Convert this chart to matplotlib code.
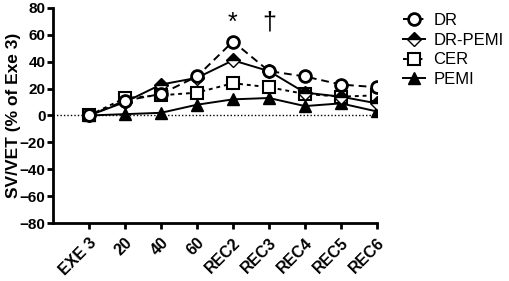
import matplotlib
matplotlib.use('Agg')
import matplotlib.pyplot as plt

plt.rcParams['font.family'] = ['Liberation Sans', 'DejaVu Sans']

# data
labels = ['EXE 3', '20', '40', '60', 'REC2', 'REC3', 'REC4', 'REC5', 'REC6']
dr = [0, 11, 16, 29, 55, 33, 29, 23, 21]
dr_pemi = [0, 10, 23, 28, 41, 33, 17, 14, 9]
cer = [0, 13, 15, 17, 24, 21, 16, 14, 15]
pemi = [0, 1, 2, 8, 12, 13, 7, 9, 3]
yticks = [-80, -60, -40, -20, 0, 20, 40, 60, 80]

x = list(range(len(labels)))

fig = plt.figure(figsize=(5.1, 2.81), dpi=100)
ax = fig.add_axes([0.104, 0.206, 0.635, 0.766])

ax.axhline(0, color='black', linestyle=(0, (1, 1.5)), linewidth=1, zorder=1)

ax.plot(x, dr, color='black', linestyle=(0, (4, 2.5)), linewidth=1.4,
        marker='o', markersize=8.5, markerfacecolor='white', markeredgewidth=2,
        label='DR', zorder=5)
ax.plot(x, dr_pemi, color='black', linestyle='-', linewidth=1.4,
        marker='D', markersize=7, fillstyle='top', markerfacecoloralt='white',
        markeredgewidth=1, label='DR-PEMI', zorder=4)
ax.plot(x, cer, color='black', linestyle=(0, (2, 2)), linewidth=1.4,
        marker='s', markersize=8, markerfacecolor='white', markeredgewidth=1.5,
        label='CER', zorder=3)
ax.plot(x, pemi, color='black', linestyle='-', linewidth=1.4,
        marker='^', markersize=8, label='PEMI', zorder=2)

ax.text(4, 60, '*', ha='center', va='bottom', fontsize=18)
ax.text(5, 60, '†', ha='center', va='bottom', fontsize=18)

ax.set_xlim(-1, 8)
ax.set_ylim(-80, 80)
ax.set_yticks(yticks)
ax.set_xticks(x)
ax.set_xticklabels(labels, rotation=45, ha='right', rotation_mode='anchor',
                   fontweight='bold', fontsize=11.5)
for t in ax.get_yticklabels():
    t.set_fontweight('bold')
    t.set_fontsize(11)
ax.set_ylabel('SV/VET (% of Exe 3)', fontweight='bold', fontsize=12.5, labelpad=0)
ax.yaxis.set_label_coords(-0.1, 0.5)

for s in ['top', 'right']:
    ax.spines[s].set_visible(False)
for s in ['left', 'bottom']:
    ax.spines[s].set_linewidth(2)
ax.tick_params(width=2, length=4.5, pad=1)
ax.tick_params(axis='x', pad=4)

ax.legend(loc='upper left', bbox_to_anchor=(0.768, 0.995), bbox_transform=fig.transFigure,
          frameon=False, fontsize=12, handlelength=1.3, labelspacing=0.28,
          handletextpad=0.5, borderaxespad=0.3)

fig.savefig('out.png', dpi=100)
